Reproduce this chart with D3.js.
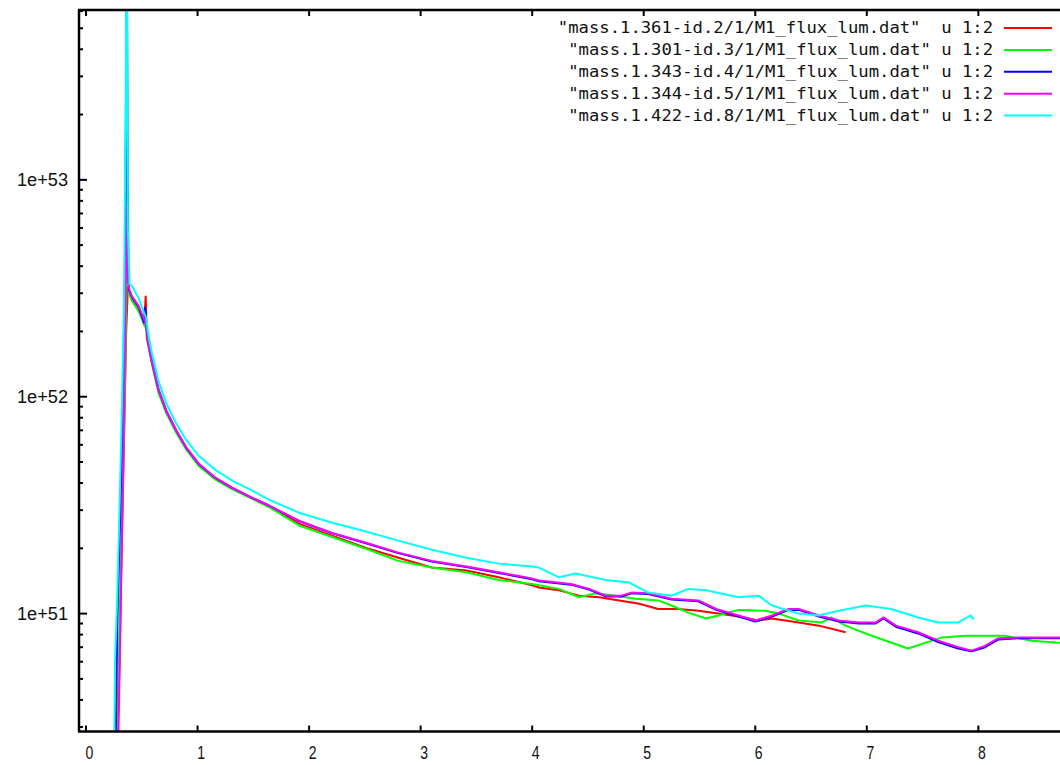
<!DOCTYPE html>
<html><head><meta charset="utf-8">
<script src="https://cdn.jsdelivr.net/npm/d3@7"></script>
<style>html,body{margin:0;padding:0;background:#fff;}svg{display:block;}</style>
</head><body>
<svg id="chart" width="1060" height="765"></svg>
<script>
// ---- data ----
const seriesNames = [
  '"mass.1.361-id.2/1/M1_flux_lum.dat"  u 1:2',
  '"mass.1.301-id.3/1/M1_flux_lum.dat" u 1:2',
  '"mass.1.343-id.4/1/M1_flux_lum.dat" u 1:2',
  '"mass.1.344-id.5/1/M1_flux_lum.dat" u 1:2',
  '"mass.1.422-id.8/1/M1_flux_lum.dat" u 1:2'
];
const seriesColors = ["#ff0000", "#00ff00", "#0000ff", "#ff00ff", "#00ffff"];
const xTicks = [0, 1, 2, 3, 4, 5, 6, 7, 8];
const xTickLabels = ["0", "1", "2", "3", "4", "5", "6", "7", "8"];
const yTicks = [1e51, 1e52, 1e53];
const yTickLabels = ["1e+51", "1e+52", "1e+53"];

const red = [[0.27,1.5e50],[0.30,6e50],[0.32,2e51],[0.34,6e51],[0.36,2.0e52],[0.375,3.2e52],[0.39,3.0e52],[0.43,2.7e52],[0.49,2.4e52],[0.52,2.15e52],[0.535,2.9e52],[0.545,1.85e52],[0.56,1.72e52],[0.59,1.45e52],[0.65,1.06e52],[0.72,8.5e51],[0.81,6.9e51],[0.90,5.75e51],[1.01,4.85e51],[1.16,4.18e51],[1.31,3.78e51],[1.49,3.4e51],[1.64,3.12e51],[1.91,2.60e51],[2.20,2.29e51],[2.51,2.01e51],[2.80,1.81e51],[3.10,1.63e51],[3.41,1.58e51],[3.70,1.47e51],[4.00,1.35e51],[4.06,1.32e51],[4.24,1.28e51],[4.42,1.21e51],[4.60,1.19e51],[4.78,1.15e51],[4.96,1.11e51],[5.13,1.05e51],[5.31,1.05e51],[5.49,1.03e51],[5.67,1.0e51],[5.85,9.7e50],[6.03,9.3e50],[6.15,9.5e50],[6.39,9.1e50],[6.57,8.8e50],[6.81,8.2e50]];

const green = [[0.27,1.5e50],[0.29,5e50],[0.31,1.5e51],[0.33,4e51],[0.35,1.2e52],[0.365,4e52],[0.375,8.9e52],[0.385,3.0e52],[0.41,2.77e52],[0.47,2.49e52],[0.54,2.05e52],[0.56,1.7e52],[0.59,1.42e52],[0.65,1.04e52],[0.72,8.4e51],[0.81,6.8e51],[0.90,5.7e51],[1.01,4.8e51],[1.16,4.15e51],[1.31,3.75e51],[1.49,3.38e51],[1.64,3.1e51],[1.91,2.55e51],[2.20,2.26e51],[2.51,1.99e51],[2.80,1.75e51],[3.10,1.63e51],[3.41,1.55e51],[3.70,1.43e51],[4.00,1.37e51],[4.24,1.30e51],[4.42,1.19e51],[4.57,1.24e51],[4.75,1.21e51],[4.93,1.17e51],[5.13,1.15e51],[5.25,1.09e51],[5.40,1.01e51],[5.56,9.5e50],[5.67,9.8e50],[5.85,1.04e51],[6.09,1.03e51],[6.21,1.0e51],[6.39,9.3e50],[6.60,9.1e50],[6.68,9.6e50],[6.81,8.8e50],[6.99,8.1e50],[7.17,7.5e50],[7.37,6.9e50],[7.53,7.35e50],[7.67,7.75e50],[7.89,7.9e50],[8.24,7.9e50],[8.48,7.5e50],[8.69,7.35e50],[8.8,7.3e50]];

const blue = [[0.26,1.5e50],[0.28,9e50],[0.30,2.2e51],[0.32,5e51],[0.335,1.4e52],[0.35,4.5e52],[0.36,3e53],[0.365,2e54],[0.375,4e52],[0.385,3.1e52],[0.41,2.9e52],[0.47,2.6e52],[0.52,2.2e52],[0.53,2.57e52],[0.545,2.0e52],[0.56,1.75e52],[0.59,1.46e52],[0.65,1.08e52],[0.72,8.6e51],[0.81,6.97e51],[0.90,5.8e51],[1.01,4.9e51],[1.16,4.22e51],[1.31,3.8e51],[1.49,3.42e51],[1.64,3.15e51],[1.91,2.67e51],[2.20,2.35e51],[2.51,2.11e51],[2.80,1.90e51],[3.10,1.74e51],[3.41,1.64e51],[3.70,1.54e51],[4.00,1.44e51],[4.06,1.41e51],[4.35,1.36e51],[4.51,1.29e51],[4.66,1.20e51],[4.80,1.20e51],[4.89,1.24e51],[5.04,1.23e51],[5.25,1.16e51],[5.49,1.14e51],[5.65,1.04e51],[5.85,9.7e50],[6.00,9.2e50],[6.15,9.7e50],[6.30,1.04e51],[6.39,1.04e51],[6.57,9.7e50],[6.75,9.2e50],[6.93,9.0e50],[7.08,9.0e50],[7.15,9.5e50],[7.26,8.7e50],[7.46,8.1e50],[7.64,7.4e50],[7.82,6.9e50],[7.94,6.7e50],[8.06,7.0e50],[8.18,7.6e50],[8.36,7.7e50],[8.69,7.7e50],[8.8,7.7e50]];

const magenta = [[0.28,1.5e50],[0.30,5e50],[0.32,2.0e51],[0.34,8e51],[0.355,3e52],[0.365,7.8e52],[0.375,3.5e52],[0.39,3.1e52],[0.41,2.92e52],[0.47,2.63e52],[0.54,2.15e52],[0.56,1.75e52],[0.59,1.46e52],[0.65,1.08e52],[0.72,8.62e51],[0.81,6.97e51],[0.90,5.82e51],[1.01,4.91e51],[1.16,4.23e51],[1.31,3.81e51],[1.49,3.42e51],[1.64,3.15e51],[1.91,2.68e51],[2.20,2.36e51],[2.51,2.12e51],[2.80,1.91e51],[3.10,1.75e51],[3.41,1.65e51],[3.70,1.55e51],[4.00,1.45e51],[4.06,1.42e51],[4.35,1.37e51],[4.51,1.30e51],[4.66,1.21e51],[4.80,1.21e51],[4.89,1.25e51],[5.04,1.24e51],[5.25,1.17e51],[5.49,1.15e51],[5.65,1.05e51],[5.85,9.8e50],[6.00,9.3e50],[6.15,9.8e50],[6.30,1.05e51],[6.39,1.05e51],[6.57,9.8e50],[6.75,9.3e50],[6.93,9.1e50],[7.08,9.1e50],[7.15,9.6e50],[7.26,8.8e50],[7.46,8.2e50],[7.64,7.5e50],[7.82,7.0e50],[7.94,6.75e50],[8.06,7.1e50],[8.18,7.7e50],[8.36,7.75e50],[8.69,7.75e50],[8.8,7.75e50]];

const cyan = [[0.25,1.5e50],[0.26,6e50],[0.28,1.2e51],[0.30,3e51],[0.32,8e51],[0.34,2.5e52],[0.355,2e53],[0.365,2e54],[0.375,6e52],[0.39,3.3e52],[0.41,3.25e52],[0.47,2.86e52],[0.54,2.3e52],[0.56,1.92e52],[0.59,1.6e52],[0.65,1.18e52],[0.72,9.3e51],[0.81,7.5e51],[0.90,6.3e51],[1.01,5.35e51],[1.16,4.6e51],[1.31,4.1e51],[1.49,3.69e51],[1.64,3.35e51],[1.91,2.92e51],[2.20,2.63e51],[2.51,2.39e51],[2.80,2.17e51],[3.10,1.97e51],[3.41,1.81e51],[3.70,1.70e51],[4.00,1.65e51],[4.06,1.63e51],[4.24,1.47e51],[4.39,1.53e51],[4.66,1.43e51],[4.87,1.39e51],[5.04,1.25e51],[5.25,1.21e51],[5.40,1.30e51],[5.56,1.28e51],[5.85,1.19e51],[6.03,1.21e51],[6.15,1.09e51],[6.39,1.0e51],[6.57,9.8e50],[6.75,1.03e51],[6.99,1.09e51],[7.22,1.05e51],[7.46,9.6e50],[7.64,9.1e50],[7.82,9.1e50],[7.93,9.8e50],[7.96,9.4e50]];

const seriesData = [red, green, blue, magenta, cyan];

// ---- layout ----
const plotL = 79, plotR = 1062, plotT = 10, plotB = 731.5;
const svg = d3.select("#chart");
const x = d3.scaleLinear().domain([-0.063, 8.75]).range([plotL, plotR]);
const y = d3.scaleLog().domain([2.86e50, 6.07e53]).range([plotB, plotT]);

svg.append("defs").append("clipPath").attr("id", "clip")
  .append("rect").attr("x", plotL).attr("y", plotT).attr("width", plotR - plotL).attr("height", plotB - plotT);

// data lines
const line = d3.line().x(d => x(d[0])).y(d => y(d[1]));
const g = svg.append("g").attr("clip-path", "url(#clip)");
seriesData.forEach((s, i) => {
  g.append("path").datum(s).attr("d", line)
    .attr("fill", "none").attr("stroke", seriesColors[i])
    .attr("stroke-width", 2).attr("stroke-linejoin", "round");
});

// frame
const frame = svg.append("g").attr("stroke", "#000").attr("stroke-width", 2.5).attr("fill", "none");
frame.append("line").attr("x1", plotL).attr("x2", plotL).attr("y1", plotT).attr("y2", plotB);
frame.append("line").attr("x1", plotL - 1).attr("x2", 1060).attr("y1", plotB).attr("y2", plotB);
frame.append("line").attr("x1", plotL - 1).attr("x2", 1060).attr("y1", plotT).attr("y2", plotT);

// x ticks (bottom inward, top inward)
const tickG = svg.append("g").attr("stroke", "#000").attr("stroke-width", 2);
xTicks.forEach(t => {
  tickG.append("line").attr("x1", x(t)).attr("x2", x(t)).attr("y1", plotB).attr("y2", plotB - 6);
  tickG.append("line").attr("x1", x(t)).attr("x2", x(t)).attr("y1", plotT).attr("y2", plotT + 6);
});
// y ticks (major & minor, left inward)
const minorTicks = y.ticks().filter(v => v >= y.domain()[0] && v <= y.domain()[1]);
minorTicks.forEach(v => {
  const major = yTicks.some(m => Math.abs(m - v) / m < 1e-6);
  tickG.append("line").attr("x1", plotL).attr("x2", plotL + (major ? 8 : 4))
    .attr("y1", y(v)).attr("y2", y(v));
});

// tick labels
const lab = svg.append("g").attr("font-family", "'Liberation Sans', Arial, sans-serif").attr("fill", "#111");
xTicks.forEach((t, i) => {
  const cx = x(t) + 3.5;
  lab.append("text").attr("x", cx).attr("y", 759.5)
    .attr("text-anchor", "middle").attr("font-size", 18)
    .attr("transform", `translate(${cx},0) scale(0.78,1) translate(${-cx},0)`)
    .text(xTickLabels[i]);
});
yTicks.forEach((t, i) => {
  lab.append("text").attr("x", 68).attr("y", y(t) + 6.5)
    .attr("text-anchor", "end").attr("font-size", 18)
    .attr("textLength", 51).attr("lengthAdjust", "spacingAndGlyphs")
    .text(yTickLabels[i]);
});

// legend
const legTextRight = 993, legLineX1 = 1004, legLineX2 = 1052;
seriesNames.forEach((name, i) => {
  const ly = 28 + i * 21.9;
  svg.append("line").attr("x1", legLineX1).attr("x2", legLineX2).attr("y1", ly).attr("y2", ly)
    .attr("stroke", seriesColors[i]).attr("stroke-width", 2);
  svg.append("text").attr("x", legTextRight).attr("y", ly + 5)
    .attr("text-anchor", "end")
    .attr("font-family", "'DejaVu Sans Mono', 'Liberation Mono', monospace")
    .attr("font-size", 15).attr("fill", "#111")
    .style("white-space", "pre")
    .attr("textLength", name.length * 10.36).attr("lengthAdjust", "spacingAndGlyphs")
    .text(name);
});
</script>
</body></html>
